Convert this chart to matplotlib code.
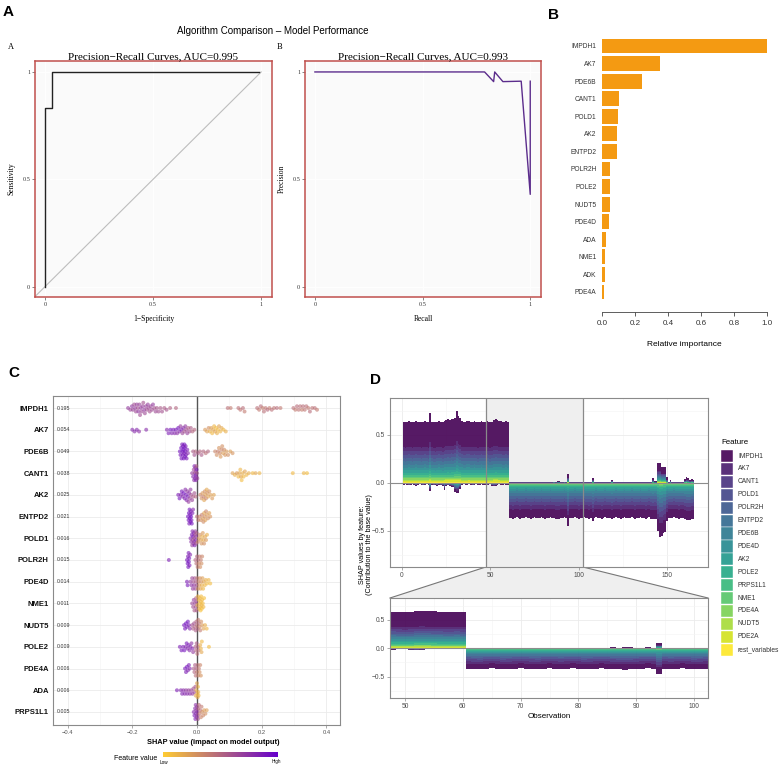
import numpy as np
import matplotlib
matplotlib.use("Agg")
import matplotlib.pyplot as plt
from matplotlib.colors import LinearSegmentedColormap
from matplotlib.patches import Rectangle, Polygon

plt.rcParams["font.family"] = ["Liberation Sans", "DejaVu Sans"]
SERIF = ["Liberation Serif", "DejaVu Serif"]
W, H = 784, 764

# ---------------- panel A: ROC / PR curves ----------------
roc_fpr = [0.0, 0.0, 0.031, 0.031, 0.99]
roc_tpr = [0.0, 0.833, 0.833, 1.0, 1.0]
pr_recall = [0.0, 0.788, 0.830, 0.835, 0.873, 0.958, 1.0, 1.0]
pr_precision = [1.0, 1.0, 0.955, 1.0, 0.955, 0.957, 0.43, 0.957]
auc_roc = 0.995
auc_pr = 0.993

# ---------------- panel B: relative importance ----------------
imp_genes = ["IMPDH1", "AK7", "PDE6B", "CANT1", "POLD1", "AK2", "ENTPD2", "POLR2H",
             "POLE2", "NUDT5", "PDE4D", "ADA", "NME1", "ADK", "PDE4A"]
imp_values = [1.0, 0.35, 0.242, 0.105, 0.099, 0.093, 0.091, 0.05,
              0.048, 0.046, 0.04, 0.024, 0.02, 0.02, 0.012]

# ---------------- panel C: SHAP summary (shap value, scaled feature value) ----------------
shap_features = ["IMPDH1", "AK7", "PDE6B", "CANT1", "AK2", "ENTPD2", "POLD1", "POLR2H",
                 "PDE4D", "NME1", "NUDT5", "POLE2", "PDE4A", "ADA", "PRPS1L1"]
mean_abs_shap = ["0.195", "0.054", "0.049", "0.038", "0.025", "0.021", "0.016", "0.015",
                 "0.014", "0.011", "0.009", "0.009", "0.006", "0.006", "0.005"]

pts_IMPDH1 = [(-0.213, .7), (-0.206, .65), (-0.201, .72), (-0.198, .66), (-0.194, .62), (-0.191, .7),
              (-0.189, .64), (-0.186, .68), (-0.183, .6), (-0.181, .72), (-0.178, .66), (-0.176, .62),
              (-0.174, .7), (-0.171, .64), (-0.168, .68), (-0.166, .6), (-0.163, .72), (-0.161, .64),
              (-0.158, .67), (-0.155, .61), (-0.152, .69), (-0.149, .64), (-0.146, .6), (-0.143, .66),
              (-0.139, .63), (-0.136, .7), (-0.132, .6), (-0.128, .64), (-0.124, .58), (-0.119, .62),
              (-0.113, .56), (-0.108, .6), (-0.101, .55), (-0.094, .58), (-0.083, .52), (-0.065, .5),
              (0.095, .45), (0.104, .4), (0.128, .45), (0.134, .42), (0.142, .46), (0.147, .4),
              (0.186, .45), (0.192, .41), (0.197, .47), (0.203, .39), (0.207, .45), (0.212, .42),
              (0.218, .48), (0.224, .4), (0.231, .45), (0.238, .43), (0.247, .47), (0.258, .41),
              (0.298, .45), (0.304, .4), (0.309, .47), (0.314, .43), (0.319, .45), (0.324, .39),
              (0.328, .46), (0.333, .42), (0.338, .45), (0.344, .41), (0.349, .47), (0.356, .43),
              (0.364, .45), (0.371, .4)]
pts_AK7 = [(-0.2, .8), (-0.193, .78), (-0.186, .8), (-0.179, .76), (-0.157, .78),
           (-0.093, .8), (-0.088, .85), (-0.082, .9), (-0.078, .82), (-0.073, .88), (-0.069, .8),
           (-0.065, .86), (-0.061, .75), (-0.058, .9), (-0.054, .8), (-0.051, .7), (-0.048, .85),
           (-0.045, .65), (-0.042, .78), (-0.039, .6), (-0.036, .72), (-0.033, .62), (-0.03, .68),
           (-0.027, .55), (-0.023, .6), (-0.019, .55), (-0.014, .5), (-0.008, .5),
           (0.025, .25), (0.031, .2), (0.036, .3), (0.04, .15), (0.044, .22), (0.047, .1),
           (0.05, .18), (0.053, .12), (0.056, .2), (0.059, .08), (0.062, .15), (0.065, .1),
           (0.068, .2), (0.072, .12), (0.076, .18), (0.082, .1), (0.089, .15)]
pts_PDE6B = [(-0.053, .9), (-0.051, .88), (-0.049, .92), (-0.048, .9), (-0.046, .86), (-0.045, .93),
             (-0.044, .9), (-0.043, .88), (-0.042, .92), (-0.041, .9), (-0.04, .85), (-0.039, .9),
             (-0.038, .93), (-0.037, .88), (-0.036, .9), (-0.035, .86), (-0.034, .9), (-0.032, .88),
             (-0.03, .85), (-0.028, .8),
             (-0.012, .55), (-0.008, .6), (-0.004, .5), (0.003, .55), (0.009, .5), (0.014, .55),
             (0.02, .5), (0.027, .45), (0.034, .5),
             (0.056, .35), (0.061, .3), (0.065, .38), (0.068, .28), (0.071, .33), (0.073, .25),
             (0.076, .35), (0.078, .3), (0.081, .22), (0.084, .32), (0.087, .28), (0.091, .25),
             (0.096, .3), (0.103, .22), (0.11, .28)]
pts_CANT1 = [(-0.015, .7), (-0.012, .8), (-0.01, .65), (-0.009, .75), (-0.008, .85), (-0.007, .6),
             (-0.006, .8), (-0.005, .7), (-0.004, .9), (-0.004, .65), (-0.003, .8), (-0.002, .55),
             (-0.002, .75), (-0.001, .85), (0.0, .6), (0.001, .7),
             (0.11, .2), (0.117, .15), (0.123, .25), (0.128, .1), (0.131, .18), (0.134, .12),
             (0.136, .2), (0.138, .08), (0.141, .15), (0.144, .1), (0.148, .2), (0.153, .12),
             (0.16, .15), (0.172, .1), (0.181, .18), (0.193, .12), (0.296, .1), (0.33, .12), (0.34, .08)]
pts_AK2 = [(-0.058, .85), (-0.054, .9), (-0.05, .82), (-0.047, .88), (-0.044, .8), (-0.041, .9),
           (-0.038, .85), (-0.036, .78), (-0.034, .88), (-0.032, .8), (-0.03, .72), (-0.028, .85),
           (-0.026, .7), (-0.024, .78), (-0.022, .65), (-0.02, .72), (-0.018, .6), (-0.015, .68),
           (-0.012, .55), (-0.008, .6), (-0.004, .5),
           (0.01, .35), (0.014, .3), (0.017, .25), (0.02, .38), (0.022, .2), (0.024, .3),
           (0.026, .22), (0.028, .35), (0.03, .18), (0.032, .28), (0.035, .2), (0.038, .3),
           (0.042, .22), (0.047, .25), (0.052, .2)]
pts_ENTPD2 = [(-0.028, .9), (-0.026, .88), (-0.025, .92), (-0.024, .86), (-0.023, .9), (-0.022, .93),
              (-0.021, .88), (-0.02, .9), (-0.019, .85), (-0.018, .92), (-0.017, .88), (-0.016, .9),
              (-0.014, .85), (-0.012, .8),
              (0.0, .45), (0.004, .4), (0.008, .35), (0.012, .3), (0.015, .38), (0.018, .25),
              (0.02, .32), (0.022, .2), (0.024, .3), (0.026, .22), (0.028, .35), (0.031, .25),
              (0.034, .3), (0.038, .22), (0.041, .28)]
pts_POLD1 = [(-0.02, .8), (-0.018, .75), (-0.016, .85), (-0.015, .7), (-0.014, .8), (-0.013, .65),
             (-0.012, .9), (-0.011, .7), (-0.01, .8), (-0.009, .6), (-0.008, .75), (-0.007, .85),
             (-0.006, .65), (-0.005, .7), (-0.004, .8), (-0.003, .6), (-0.002, .7), (-0.001, .55),
             (0.003, .35), (0.006, .25), (0.009, .3), (0.012, .2), (0.014, .28), (0.016, .15),
             (0.018, .25), (0.02, .18), (0.022, .3), (0.025, .2), (0.028, .25), (0.031, .15)]
pts_POLR2H = [(-0.087, .85), (-0.031, .88), (-0.029, .9), (-0.028, .85), (-0.027, .9), (-0.026, .86),
              (-0.025, .92), (-0.024, .88), (-0.023, .85), (-0.021, .8),
              (-0.005, .5), (-0.002, .45), (0.0, .5), (0.002, .4), (0.004, .45), (0.006, .35),
              (0.008, .4), (0.01, .3), (0.012, .38), (0.014, .3), (0.016, .35)]
pts_PDE4D = [(-0.031, .85), (-0.029, .88), (-0.02, .7), (-0.017, .75), (-0.015, .65), (-0.013, .7),
             (-0.011, .6), (-0.009, .72), (-0.007, .6), (-0.005, .65), (-0.003, .55), (-0.001, .6),
             (0.001, .4), (0.003, .3), (0.005, .35), (0.007, .25), (0.009, .3), (0.011, .2),
             (0.013, .28), (0.015, .15), (0.017, .22), (0.019, .12), (0.021, .2), (0.024, .12),
             (0.027, .15), (0.031, .1), (0.036, .12), (0.041, .08)]
pts_NME1 = [(-0.015, .65), (-0.012, .6), (-0.01, .7), (-0.008, .55), (-0.006, .65), (-0.004, .6),
            (-0.003, .5), (-0.002, .62), (-0.001, .55),
            (0.001, .2), (0.003, .12), (0.005, .1), (0.006, .15), (0.008, .08), (0.009, .12),
            (0.01, .1), (0.011, .05), (0.012, .1), (0.013, .08), (0.014, .12), (0.015, .06),
            (0.016, .1), (0.018, .08), (0.02, .1), (0.022, .06)]
pts_NUDT5 = [(-0.04, .9), (-0.037, .88), (-0.034, .92), (-0.031, .86), (-0.028, .9), (-0.025, .85),
             (-0.022, .8),
             (-0.015, .6), (-0.012, .55), (-0.009, .6), (-0.006, .5), (-0.004, .55), (-0.002, .5),
             (0.0, .45), (0.002, .5), (0.004, .4), (0.006, .45), (0.008, .35), (0.01, .4),
             (0.013, .3), (0.016, .25), (0.02, .2), (0.025, .15), (0.03, .12)]
pts_POLE2 = [(-0.053, .85), (-0.048, .88), (-0.043, .85), (-0.039, .9), (-0.035, .82), (-0.032, .88),
             (-0.029, .8), (-0.026, .85), (-0.023, .78), (-0.02, .82), (-0.017, .75), (-0.014, .8),
             (-0.012, .7),
             (-0.005, .55), (-0.003, .5), (-0.001, .55), (0.001, .45), (0.003, .5), (0.005, .45),
             (0.01, .15), (0.012, .12), (0.014, .18), (0.015, .1), (0.037, .08)]
pts_PDE4A = [(-0.037, .88), (-0.034, .85), (-0.031, .9), (-0.028, .82), (-0.025, .86), (-0.022, .8),
             (-0.01, .55), (-0.008, .5), (-0.006, .55), (-0.004, .45), (-0.002, .5), (0.0, .4),
             (0.002, .45), (0.004, .35), (0.006, .4), (0.008, .3), (0.01, .35), (0.012, .28)]
pts_ADA = [(-0.062, .85), (-0.05, .8), (-0.046, .82), (-0.042, .78), (-0.038, .8), (-0.034, .72),
           (-0.03, .78), (-0.026, .7), (-0.022, .75), (-0.018, .65), (-0.014, .7), (-0.011, .6),
           (-0.008, .65), (-0.005, .55),
           (-0.004, .2), (-0.002, .15), (0.0, .2), (0.001, .12), (0.002, .18), (0.003, .1),
           (0.004, .15), (0.005, .12)]
pts_PRPS1L1 = [(-0.01, .8), (-0.008, .85), (-0.006, .78), (-0.005, .82), (-0.004, .75), (-0.003, .8),
               (-0.002, .72), (-0.001, .78), (0.0, .7), (0.001, .75), (0.002, .68), (0.003, .6),
               (0.004, .5), (0.006, .45), (0.008, .4), (0.01, .45), (0.012, .35), (0.014, .4),
               (0.016, .3), (0.019, .35), (0.022, .25), (0.026, .3), (0.03, .22)]
shap_points = [pts_IMPDH1, pts_AK7, pts_PDE6B, pts_CANT1, pts_AK2, pts_ENTPD2, pts_POLD1, pts_POLR2H,
               pts_PDE4D, pts_NME1, pts_NUDT5, pts_POLE2, pts_PDE4A, pts_ADA, pts_PRPS1L1]

# ---------------- panel D: SHAP force plot per observation ----------------
force_features = ["IMPDH1", "AK7", "CANT1", "POLD1", "POLR2H", "ENTPD2", "PDE6B", "PDE4D", "AK2",
                  "POLE2", "PRPS1L1", "NME1", "PDE4A", "NUDT5", "PDE2A", "rest_variables"]
pos_share = [0.42, 0.06, 0.06, 0.06, 0.05, 0.05, 0.05, 0.045, 0.04, 0.035, 0.03, 0.025,
             0.02, 0.015, 0.02, 0.02]
neg_share = [0.25, 0.11, 0.10, 0.09, 0.08, 0.08, 0.07, 0.06, 0.05, 0.035, 0.025, 0.02,
             0.012, 0.008, 0.005, 0.005]
# summed positive / negative SHAP for observations 1..165
pos_total = ([0.64, 0.635, 0.64, 0.645, 0.64, 0.635, 0.64, 0.645, 0.64, 0.64, 0.635, 0.64, 0.645, 0.64, 0.635,
              0.73,
              0.64, 0.635, 0.63, 0.64, 0.645, 0.64, 0.63, 0.65,
              0.66, 0.665, 0.66, 0.67, 0.665, 0.68,
              0.75, 0.70, 0.68,
              0.645, 0.64, 0.64, 0.645, 0.65, 0.64, 0.64, 0.645, 0.64, 0.635, 0.64, 0.645, 0.64, 0.64,
              0.645, 0.64, 0.635, 0.64, 0.66, 0.665, 0.66, 0.65, 0.645, 0.64, 0.64, 0.645, 0.64]
             + [0.01] * 25 + [0.015, 0.01, 0.02, 0.02, 0.01, 0.01, 0.015, 0.01]
             + [0.094]
             + [0.01] * 13 + [0.05] + [0.01] * 10 + [0.035] + [0.01] * 22
             + [0.05, 0.02, 0.02]
             + [0.21, 0.21, 0.17, 0.17, 0.17, 0.06]
             + [0.01, 0.03, 0.01, 0.01, 0.01, 0.01, 0.01, 0.01, 0.01]
             + [0.04, 0.06, 0.05, 0.03, 0.04, 0.03])
neg_total = ([-0.02, -0.015, -0.02, -0.025, -0.02, -0.015, -0.02, -0.03, -0.02, -0.015, -0.02, -0.025,
              -0.02, -0.015, -0.02,
              -0.085,
              -0.02, -0.025, -0.02, -0.03, -0.02, -0.025, -0.03,
              -0.07,
              -0.03, -0.025, -0.03, -0.04, -0.045,
              -0.09, -0.105, -0.1, -0.06,
              -0.02, -0.015, -0.02, -0.02, -0.015, -0.02, -0.025, -0.02, -0.015, -0.02, -0.02, -0.015,
              -0.02, -0.02, -0.025, -0.02, -0.015, -0.03, -0.035, -0.03, -0.02, -0.015, -0.02, -0.02,
              -0.015, -0.02, -0.02,
              -0.36, -0.365, -0.37, -0.36, -0.355, -0.36, -0.37, -0.365, -0.36, -0.355, -0.36, -0.365,
              -0.37, -0.36, -0.355, -0.36, -0.365, -0.36, -0.355, -0.36, -0.37, -0.365, -0.36, -0.355,
              -0.36, -0.365, -0.37, -0.375, -0.37, -0.365, -0.36, -0.355, -0.36,
              -0.45,
              -0.36, -0.365, -0.36, -0.355, -0.36, -0.37, -0.365, -0.36, -0.355, -0.36, -0.365, -0.37, -0.36,
              -0.40,
              -0.36, -0.355, -0.36, -0.365, -0.37, -0.36, -0.355, -0.36, -0.365, -0.36,
              -0.38,
              -0.36, -0.355, -0.36, -0.365, -0.37, -0.36, -0.355, -0.36, -0.365, -0.36, -0.355, -0.36,
              -0.37, -0.365, -0.36, -0.355, -0.36, -0.365, -0.37, -0.36, -0.355, -0.37,
              -0.38, -0.37, -0.38,
              -0.50, -0.56, -0.55, -0.52, -0.51, -0.40,
              -0.36, -0.365, -0.36, -0.355, -0.36, -0.365, -0.37, -0.36, -0.365,
              -0.38, -0.39, -0.385, -0.39, -0.38, -0.375])
zoom_range = (47.41, 102.41)


def rect(x0, y0, x1, y1):
    return [x0 / W, 1 - y1 / H, (x1 - x0) / W, (y1 - y0) / H]


fig = plt.figure(figsize=(W / 100, H / 100), dpi=100)
ov = fig.add_axes([0, 0, 1, 1], zorder=-5)
ov.set_xlim(0, W); ov.set_ylim(H, 0); ov.axis("off")

for lab, (x, y) in {"A": (3, 12), "B": (548, 15), "C": (8, 373), "D": (370, 380)}.items():
    ov.text(x, y, lab, fontsize=11, weight="bold", va="center", ha="left")

# ---------------- A ----------------
ov.text(273, 31, "Algorithm Comparison \u2013 Model Performance", fontsize=7, ha="center", va="center")
ov.text(8, 47, "A", fontsize=6, family=SERIF, va="center")
ov.text(277, 47, "B", fontsize=6, family=SERIF, va="center")


def curve_axes(box, xs, ys, color, title, xlabel, ylabel, diag):
    ax = fig.add_axes(rect(*box))
    ax.set_facecolor("#FAFAFA")
    ax.set_xlim(-0.046, 1.05); ax.set_ylim(-0.048, 1.051)
    ax.set_xticks([0, 0.5, 1]); ax.set_xticklabels(["0", "0.5", "1"], family=SERIF)
    ax.set_yticks([0, 0.5, 1]); ax.set_yticklabels(["0", "0.5", "1"], family=SERIF)
    ax.grid(color="white", lw=0.6)
    ax.set_axisbelow(True)
    for s in ax.spines.values():
        s.set_color("#C0504D"); s.set_linewidth(1.1)
    ax.tick_params(length=2, width=0.5, color="#555555", labelsize=4.5, labelcolor="#333333", pad=1.5)
    if diag:
        ax.plot([-0.05, 1.0], [-0.05, 1.0], color="#BDBDBD", lw=0.8)
    ax.plot(xs, ys, color=color, lw=1.0)
    ax.set_title(title, fontsize=8, family=SERIF, pad=1.5)
    ax.set_xlabel(xlabel, fontsize=5.5, family=SERIF, labelpad=6)
    ax.set_ylabel(ylabel, fontsize=5.5, family=SERIF, labelpad=5)
    return ax


curve_axes((35, 61, 272, 297), roc_fpr, roc_tpr, "#222222",
           f"Precision\u2212Recall Curves, AUC={auc_roc}", "1\u2212Specificity", "Sensitivity", True)
curve_axes((305, 61, 541, 297), pr_recall, pr_precision, "#5B2C8C",
           f"Precision\u2212Recall Curves, AUC={auc_pr}", "Recall", "Precision", False)

# ---------------- B ----------------
axb = fig.add_axes(rect(602, 36, 767, 312))
axb.barh(range(len(imp_genes)), imp_values, height=0.85, color="#F49A12")
axb.set_ylim(15.14, -0.569); axb.set_xlim(0, 1)
for s in ("top", "right", "left"):
    axb.spines[s].set_visible(False)
axb.spines["bottom"].set_color("#444444"); axb.spines["bottom"].set_linewidth(0.6)
axb.set_yticks(range(len(imp_genes))); axb.set_yticklabels(imp_genes)
axb.set_xticks(np.arange(0, 1.01, 0.2)); axb.set_xticklabels([f"{v:.1f}" for v in np.arange(0, 1.01, 0.2)])
axb.tick_params(axis="y", length=0, pad=4, labelsize=4.8, labelcolor="#333333")
axb.tick_params(axis="x", length=3, width=0.6, color="#444444", labelsize=5.8, labelcolor="#333333", pad=3)
axb.set_xlabel("Relative importance", fontsize=6, labelpad=10)

# ---------------- C ----------------
shap_cmap = LinearSegmentedColormap.from_list("shap", ["#FFCC33", "#6600CC"])
axc = fig.add_axes(rect(53, 396, 340, 725))
axc.set_xlim(-0.445, 0.442); axc.set_ylim(14.6, -0.553)
axc.set_xticks([-0.4, -0.2, 0.0, 0.2, 0.4])
axc.set_xticklabels(["\u22120.4", "\u22120.2", "0.0", "0.2", "0.4"])
axc.set_xticks([-0.3, -0.1, 0.1, 0.3], minor=True)
axc.set_yticks(range(len(shap_features)))
axc.set_yticklabels(shap_features, weight="bold")
axc.grid(which="major", color="#EBEBEB", lw=0.6)
axc.grid(which="minor", axis="x", color="#F3F3F3", lw=0.4)
axc.set_axisbelow(True)
for s in axc.spines.values():
    s.set_color("#8A8A8A"); s.set_linewidth(0.8)
axc.tick_params(axis="y", length=0, pad=3, labelsize=5.5, labelcolor="#111111")
axc.tick_params(axis="x", which="major", length=2, width=0.5, color="#888888", labelsize=4.2,
                labelcolor="#555555", pad=1.5)
axc.tick_params(axis="x", which="minor", length=0)
axc.axvline(0, color="#555555", lw=1.0, zorder=1.5)

XPX, YPX, DOT = 323.5, 21.71, 3.2


def swarm(xs):
    xp = np.asarray(xs) * XPX
    cands = [0.0]
    for k in range(1, 12):
        cands += [k * DOT * 0.55, -k * DOT * 0.55]
    cands = [c for c in cands if abs(c) <= 7.5]
    placed, offs = [], np.zeros(len(xp))
    for i in np.argsort(xp):
        pick, best_c, best_gap = None, 0.0, -1.0
        for c in cands:
            gap = min((np.hypot(xp[i] - px, c - py) for px, py in placed), default=99.0)
            if gap >= DOT * 0.8:
                pick = c
                break
            if gap > best_gap:
                best_gap, best_c = gap, c
        offs[i] = best_c if pick is None else pick
        placed.append((xp[i], offs[i]))
    return offs / YPX


for row, pts in enumerate(shap_points):
    xs = [p[0] for p in pts]
    cs = [p[1] for p in pts]
    axc.scatter(xs, row + swarm(xs), c=cs, cmap=shap_cmap, vmin=0, vmax=1, s=8,
                alpha=0.6, linewidths=0, zorder=2)
    axc.text(0.014, row, mean_abs_shap[row], transform=axc.get_yaxis_transform(),
             fontsize=3.8, va="center", ha="left", color="#333333")

ov.text(213, 742, "SHAP value (impact on model output)", fontsize=5.3, weight="bold",
        ha="center", va="center")
axcb = fig.add_axes(rect(163, 751.5, 278, 756.5))
axcb.imshow(np.linspace(0, 1, 256)[None, :], aspect="auto", cmap=shap_cmap)
axcb.axis("off")
ov.text(157, 758, "Feature value", fontsize=5, ha="right", va="center")
ov.text(160, 762, "Low", fontsize=3.3, ha="left", va="center")
ov.text(281, 762, "High", fontsize=3.3, ha="right", va="center")

# ---------------- D ----------------
feat_cols = plt.cm.viridis(np.linspace(0, 1, len(force_features)))
feat_cols[:, 3] = 0.9
obs = np.arange(1, len(pos_total) + 1)
pos_arr = np.array(pos_total)
neg_arr = np.array(neg_total)


def force_axes(box, xlim, major, minor):
    ax = fig.add_axes(rect(*box))
    ax.set_xlim(*xlim); ax.set_ylim(-0.875, 0.885)
    ax.set_xticks(major); ax.set_xticks(minor, minor=True)
    ax.set_yticks([-0.5, 0, 0.5]); ax.set_yticklabels(["\u22120.5", "0.0", "0.5"])
    ax.set_yticks([-0.75, -0.25, 0.25, 0.75], minor=True)
    ax.grid(which="major", color="#EBEBEB", lw=0.6)
    ax.grid(which="minor", color="#F4F4F4", lw=0.4)
    ax.set_axisbelow(True)
    for s in ax.spines.values():
        s.set_color("#8A8A8A"); s.set_linewidth(0.8)
    ax.tick_params(which="major", length=2, width=0.5, color="#888888", labelsize=4.8,
                   labelcolor="#4D4D4D", pad=1.5)
    ax.tick_params(which="minor", length=0)
    bp = np.zeros(len(obs)); bn = np.zeros(len(obs))
    for k in reversed(range(len(force_features))):
        hp = pos_arr * pos_share[k]
        hn = neg_arr * neg_share[k]
        ax.bar(obs, hp, bottom=bp, width=1.0, color=feat_cols[k], lw=0, zorder=2)
        ax.bar(obs, hn, bottom=bn, width=1.0, color=feat_cols[k], lw=0, zorder=2)
        bp += hp; bn += hn
    ax.axhline(0, color="#8C8C8C", lw=0.8, zorder=3)
    return ax


axd1 = force_axes((390, 398, 708, 567), (-6.8, 173.2), [0, 50, 100, 150], [25, 75, 125])
axd1.axvspan(*zoom_range, color="#EFEFEF", zorder=0.6, lw=0)
for xv in zoom_range:
    axd1.axvline(xv, color="#8A8A8A", lw=0.9, zorder=3)
axd2 = force_axes((390, 598, 708, 698), zoom_range, [50, 60, 70, 80, 90, 100],
                  [55, 65, 75, 85, 95])
axd2.set_xlabel("Observation", fontsize=5.8, labelpad=2)

# connector between overview and zoomed panel
fig.canvas.draw()
pl = axd1.transData.transform((zoom_range[0], -0.875))
pr = axd1.transData.transform((zoom_range[1], -0.875))
tl = (pl[0], H - pl[1]); tr = (pr[0], H - pr[1])
bl = (390, 598); br = (708, 598)
ov.add_patch(Polygon([tl, tr, br, bl], closed=True, fc="#EFEFEF", ec="none"))
ov.plot([tl[0], bl[0]], [tl[1], bl[1]], color="#777777", lw=0.8)
ov.plot([tr[0], br[0]], [tr[1], br[1]], color="#777777", lw=0.8)

ov.text(366, 545, "SHAP values by feature:\n(Contribution to the base value)", rotation=90,
        fontsize=5.2, ha="center", va="center", linespacing=1.0)

# legend
ov.text(721, 442, "Feature", fontsize=5.7, ha="left", va="center")
for k, name in enumerate(force_features):
    y0 = 450 + 12.9 * k
    ov.add_patch(Rectangle((721, y0), 12, 12.2, fc=feat_cols[k], ec="white", lw=0.3))
    ov.text(738, y0 + 6.1, name, fontsize=4.8, ha="left", va="center", color="#333333")

fig.savefig("out.png", dpi=100)
